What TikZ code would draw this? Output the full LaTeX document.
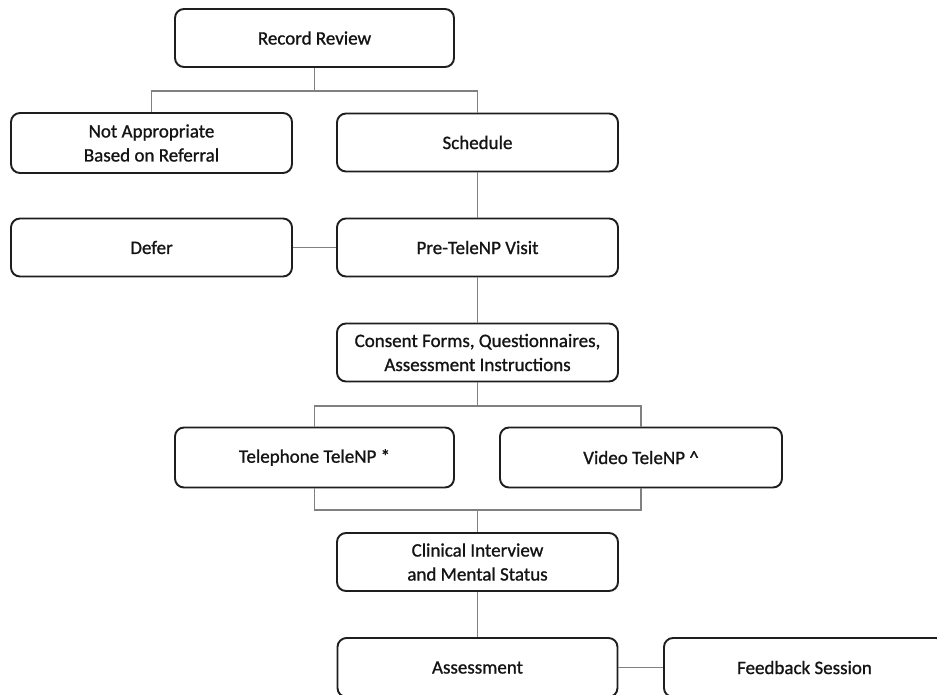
\documentclass[tikz,border=0pt]{standalone}
\usepackage{fontspec}
\setmainfont{Carlito}
\newfontfamily\boxfont{Carlito}[FakeBold=1.0]
\usetikzlibrary{positioning}
\definecolor{boxline}{HTML}{1E1E1E}
\definecolor{linkline}{HTML}{808080}
\definecolor{boxtext}{HTML}{141414}
\tikzset{
  stepbox/.style={draw=boxline, line width=1.9pt, rounded corners=9pt,
    fill=white, text=boxtext, align=center,
    minimum width=279pt, minimum height=58pt, inner sep=0pt,
    font=\boxfont\fontsize{19}{24}\selectfont},
  link/.style={draw=linkline, line width=1.3pt},
}
\begin{document}
\begin{tikzpicture}[x=1pt, y=1pt]
  \path[use as bounding box, clip] (0,0) rectangle (937,-694);
  \fill[white] (0,0) rectangle (937,-694);

  % boxes
  \node[stepbox] (rr)  at (314.5,-38)   {Record Review};
  \node[stepbox, minimum width=281pt, minimum height=60pt] (na) at (151.5,-143) {Not Appropriate\\Based on Referral};
  \node[stepbox, minimum width=281pt] (sch) at (477.5,-142.5) {Schedule};
  \node[stepbox, minimum width=281pt] (def) at (151.5,-247.5) {Defer};
  \node[stepbox, minimum width=281pt] (pre) at (477.5,-247.5) {Pre-TeleNP Visit};
  \node[stepbox, minimum width=281pt] (con) at (477.5,-352.5) {Consent Forms, Questionnaires,\\Assessment Instructions};
  \node[stepbox, minimum height=60pt] (tel) at (314.5,-457.5) {Telephone TeleNP *};
  \node[stepbox, minimum width=282pt, minimum height=60pt] (vid) at (641,-457.5) {Video TeleNP \^{}};
  \node[stepbox, minimum width=281pt] (cli) at (477.5,-562) {Clinical Interview\\and Mental Status};
  \node[stepbox, minimum width=280pt, minimum height=59pt] (ass) at (477.5,-667.5) {Assessment};
  \node[stepbox, minimum width=281pt, minimum height=59pt] (fb)  at (804.5,-667.5) {Feedback Session};

  % branch points
  \coordinate (j1) at (314.5,-91);
  \coordinate (j2) at (477.5,-406);
  \coordinate (j3) at (477.5,-510);

  % connectors
  \draw[link] (rr.south) -- (j1);
  \draw[link] (na.north) |- (j1) -| (sch.north);
  \draw[link] (sch.south) -- (pre.north);
  \draw[link] (def.east) -- (pre.west);
  \draw[link] (pre.south) -- (con.north);
  \draw[link] (con.south) -- (j2);
  \draw[link] (tel.north) |- (j2) -| (vid.north);
  \draw[link] (tel.south) |- (j3) -| (vid.south);
  \draw[link] (j3) -- (cli.north);
  \draw[link] (cli.south) -- (ass.north);
  \draw[link] (ass.east) -- (fb.west);
\end{tikzpicture}
\end{document}
